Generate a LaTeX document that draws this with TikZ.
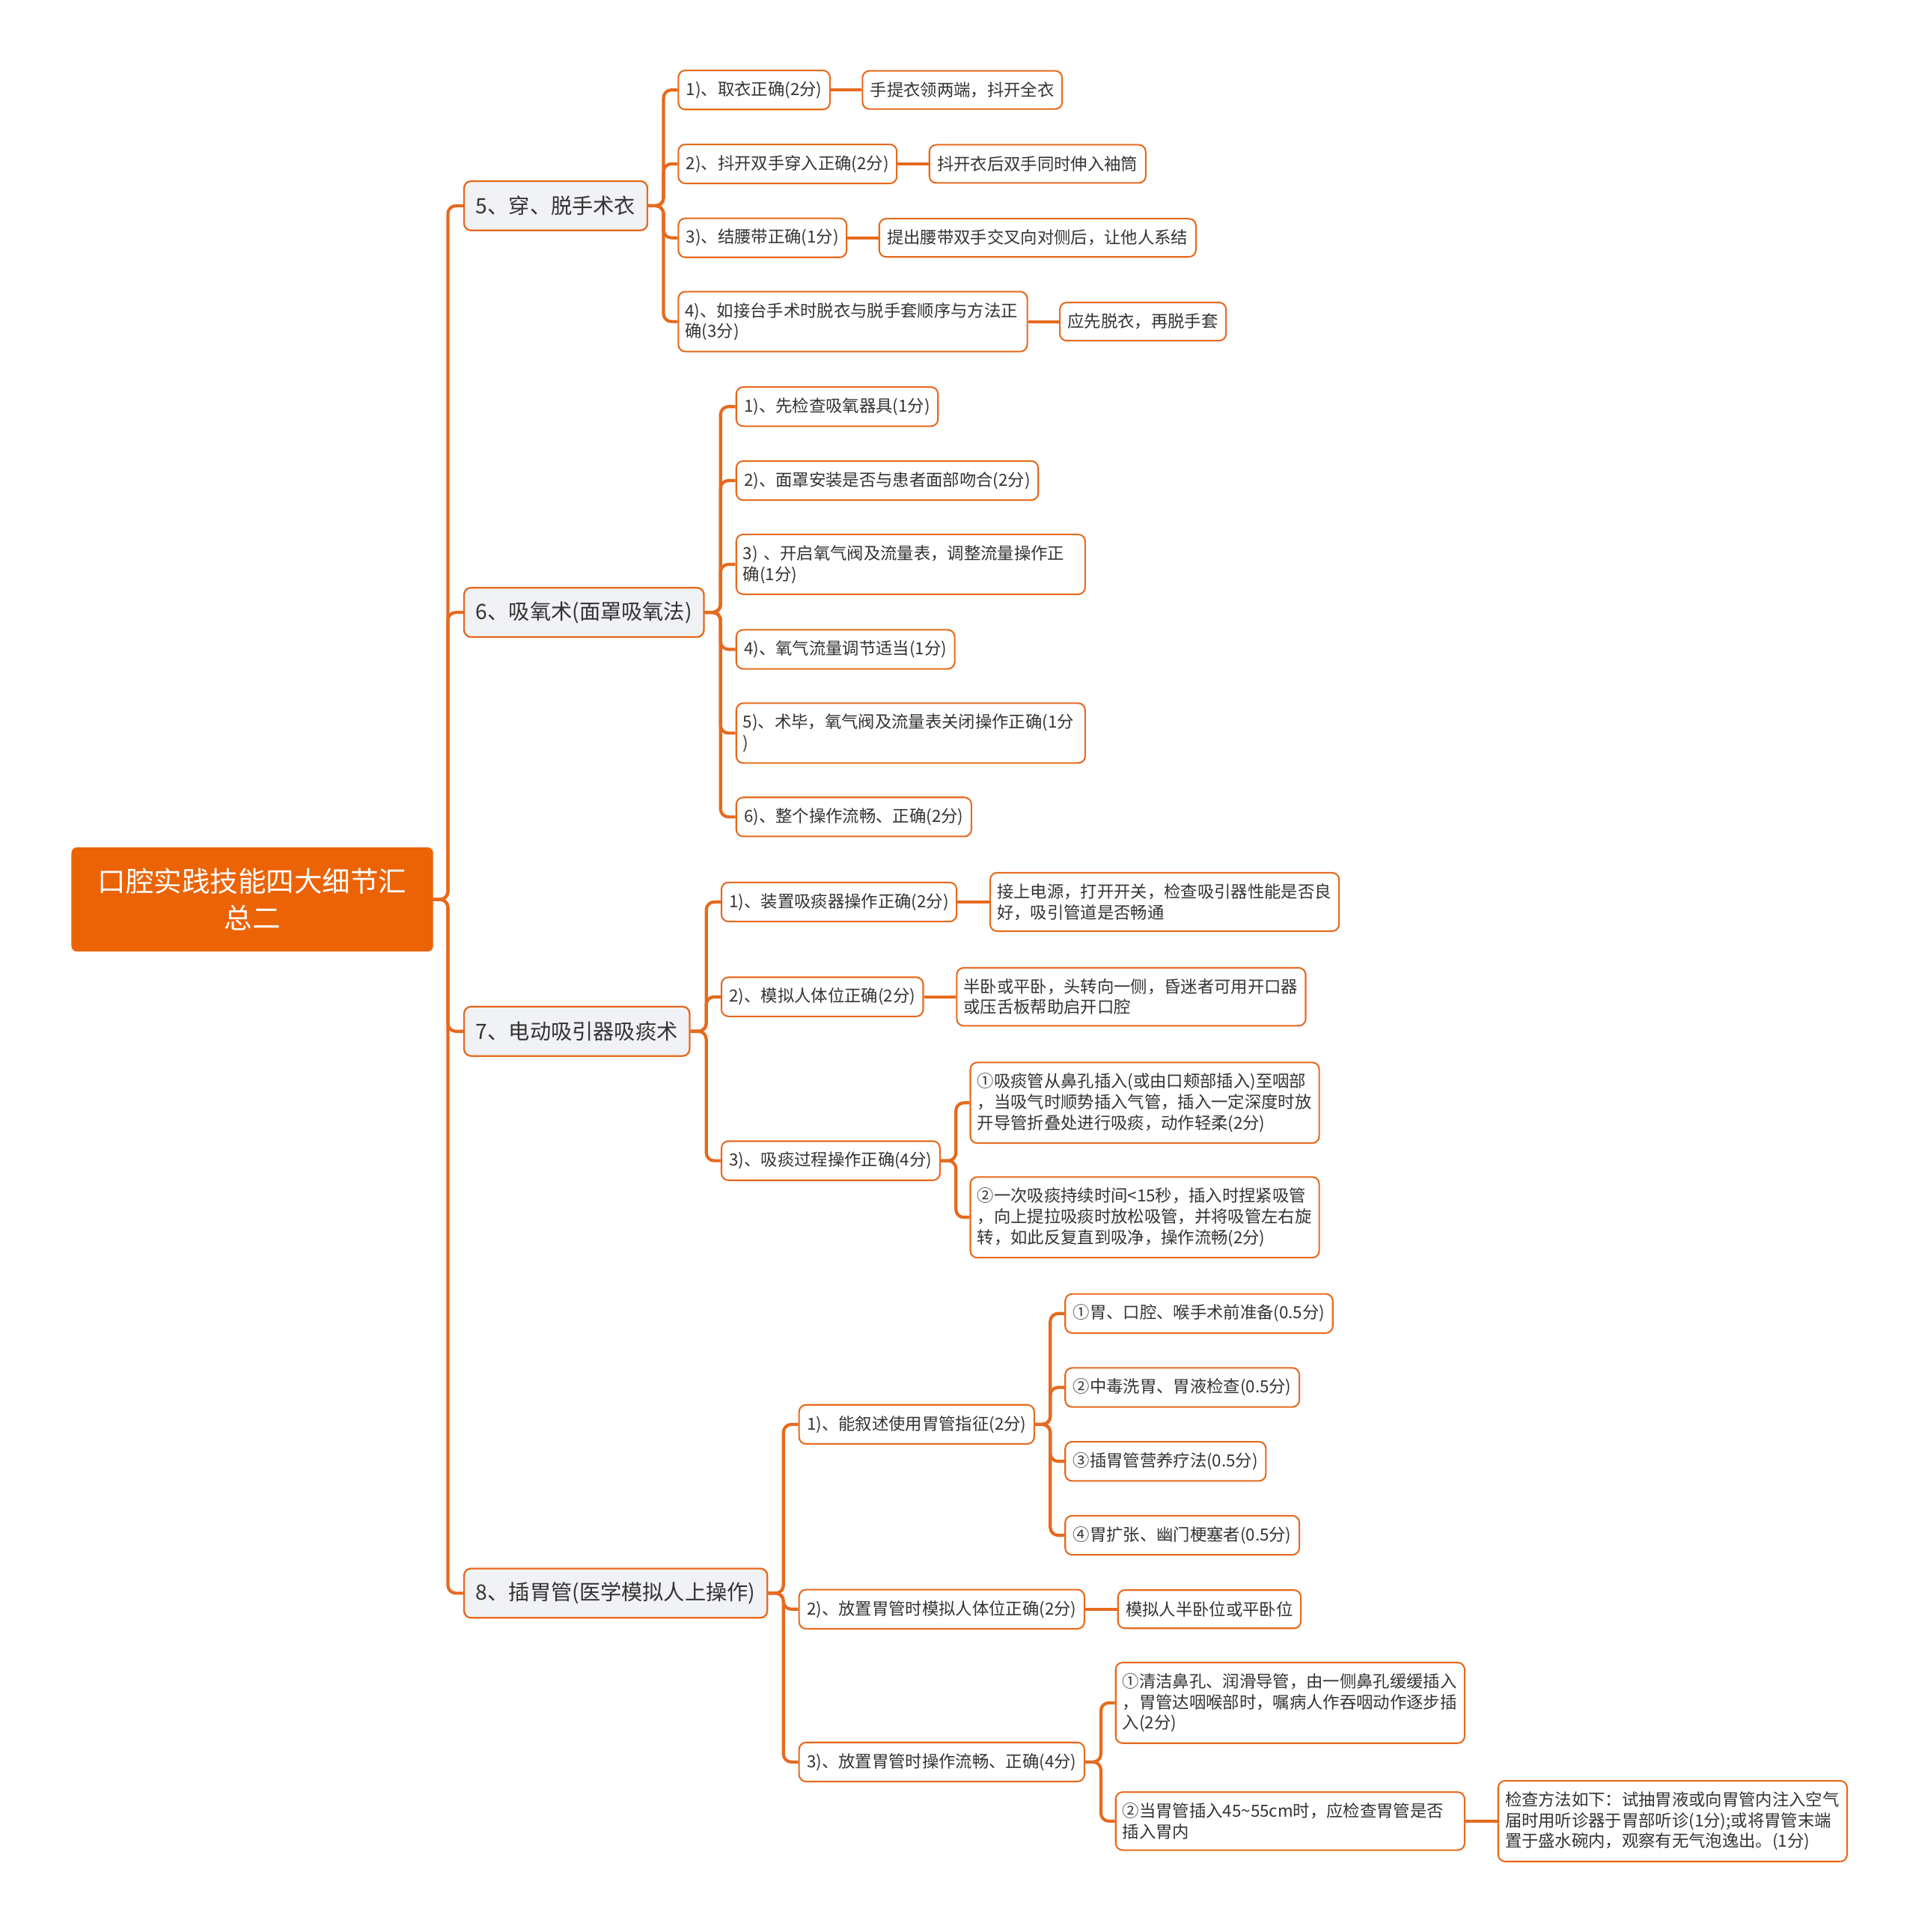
\documentclass[tikz,border=0pt]{standalone}
\usepackage{fontspec}
\setmainfont{Noto Sans CJK SC}
\usepackage{tikz}
\usetikzlibrary{positioning}
\definecolor{MapOrange}{HTML}{E66A1E}
\definecolor{RootOrange}{HTML}{EC6306}
\definecolor{TopicBg}{HTML}{F0F2F5}
\definecolor{InkGray}{HTML}{333333}
\tikzset{
  RT/.style={rectangle,rounded corners=3pt,fill=RootOrange,draw=RootOrange,
             text=white,align=center,anchor=west,
             minimum width=73.25mm,minimum height=21mm,text width=66mm,
             font=\fontsize{16.2}{21.3}\selectfont},
  TP/.style={rectangle,rounded corners=4pt,fill=TopicBg,draw=MapOrange,
             line width=1pt,text=InkGray,anchor=west,
             minimum height=10mm,inner xsep=2.4mm,
             font=\fontsize{12.2}{14}\selectfont},
  LF/.style={rectangle,rounded corners=4pt,fill=white,draw=MapOrange,
             line width=0.9pt,text=InkGray,anchor=west,align=left,
             minimum height=7.75mm,inner xsep=1.6mm,inner ysep=2.2mm,
             font=\fontsize{9.65}{12}\selectfont},
  LW/.style={LF,inner xsep=1.4mm,text width=68mm},
  lnk/.style={draw=MapOrange,line width=1.8pt,rounded corners=1.6mm}
}
\begin{document}
\begin{tikzpicture}[x=0.25mm,y=-0.25mm]
  \useasboundingbox (0,0) rectangle (1555,1568);

  \node[RT] (root) at (58,730) {口腔实践技能四大细节汇\\总二};

  \node[TP] (t5) at (376,167) {5、穿、脱手术衣};
  \node[TP] (t6) at (376,497) {6、吸氧术(面罩吸氧法)};
  \node[TP] (t7) at (376,837) {7、电动吸引器吸痰术};
  \node[TP] (t8) at (376,1293) {8、插胃管(医学模拟人上操作)};

  % 5
  \node[LF] (s51) at (550,73) {1)、取衣正确(2分)};
  \node[LF,right=6.3mm of s51] (s51a) {手提衣领两端，抖开全衣};
  \node[LF] (s52) at (550,133) {2)、抖开双手穿入正确(2分)};
  \node[LF,right=6.3mm of s52] (s52a) {抖开衣后双手同时伸入袖筒};
  \node[LF] (s53) at (550,193) {3)、结腰带正确(1分)};
  \node[LF,right=6.3mm of s53] (s53a) {提出腰带双手交叉向对侧后，让他人系结};
  \node[LW] (s54) at (550,261) {4)、如接台手术时脱衣与脱手套顺序与方法正\\确(3分)};
  \node[LF,right=6.3mm of s54] (s54a) {应先脱衣，再脱手套};

  % 6
  \node[LF] (s61) at (597,330) {1)、先检查吸氧器具(1分)};
  \node[LF] (s62) at (597,390) {2)、面罩安装是否与患者面部吻合(2分)};
  \node[LW] (s63) at (597,458) {3) 、开启氧气阀及流量表，调整流量操作正\\确(1分)};
  \node[LF] (s64) at (597,527) {4)、氧气流量调节适当(1分)};
  \node[LW] (s65) at (597,595) {5)、术毕，氧气阀及流量表关闭操作正确(1分\\)};
  \node[LF] (s66) at (597,663) {6)、整个操作流畅、正确(2分)};

  % 7
  \node[LF] (s71) at (585,732) {1)、装置吸痰器操作正确(2分)};
  \node[LW,right=6.5mm of s71] (s71a) {接上电源，打开开关，检查吸引器性能是否良\\好，吸引管道是否畅通};
  \node[LF] (s72) at (585,809) {2)、模拟人体位正确(2分)};
  \node[LW,right=6.5mm of s72] (s72a) {半卧或平卧，头转向一侧，昏迷者可用开口器\\或压舌板帮助启开口腔};
  \node[LF] (s73) at (585,942) {3)、吸痰过程操作正确(4分)};
  \node[LW] (s73a) at (787,895) {①吸痰管从鼻孔插入(或由口颊部插入)至咽部\\，当吸气时顺势插入气管，插入一定深度时放\\开导管折叠处进行吸痰，动作轻柔(2分)};
  \node[LW] (s73b) at (787,988) {②一次吸痰持续时间<15秒，插入时捏紧吸管\\，向上提拉吸痰时放松吸管，并将吸管左右旋\\转，如此反复直到吸净，操作流畅(2分)};

  % 8
  \node[LF] (s81) at (648,1156) {1)、能叙述使用胃管指征(2分)};
  \node[LF] (s81a) at (864,1066) {①胃、口腔、喉手术前准备(0.5分)};
  \node[LF] (s81b) at (864,1126) {②中毒洗胃、胃液检查(0.5分)};
  \node[LF] (s81c) at (864,1186) {③插胃管营养疗法(0.5分)};
  \node[LF] (s81d) at (864,1246) {④胃扩张、幽门梗塞者(0.5分)};
  \node[LF] (s82) at (648,1306) {2)、放置胃管时模拟人体位正确(2分)};
  \node[LF,right=6.5mm of s82] (s82a) {模拟人半卧位或平卧位};
  \node[LF] (s83) at (648,1430) {3)、放置胃管时操作流畅、正确(4分)};
  \node[LW] (s83a) at (905,1382) {①清洁鼻孔、润滑导管，由一侧鼻孔缓缓插入\\，胃管达咽喉部时，嘱病人作吞咽动作逐步插\\入(2分)};
  \node[LW] (s83b) at (905,1478) {②当胃管插入45\textasciitilde55cm时，应检查胃管是否\\插入胃内};
  \node[LW,right=6.5mm of s83b] (s83c) {检查方法如下：试抽胃液或向胃管内注入空气\\届时用听诊器于胃部听诊(1分);或将胃管末端\\置于盛水碗内，观察有无气泡逸出。(1分)};

  \draw[lnk](root.east)--++(3mm,0)|-(t5.west);
  \draw[lnk](root.east)--++(3mm,0)|-(t6.west);
  \draw[lnk](root.east)--++(3mm,0)|-(t7.west);
  \draw[lnk](root.east)--++(3mm,0)|-(t8.west);

  \draw[lnk](t5.east)--++(3.1mm,0)|-(s51.west);
  \draw[lnk](t5.east)--++(3.1mm,0)|-(s52.west);
  \draw[lnk](t5.east)--++(3.1mm,0)|-(s53.west);
  \draw[lnk](t5.east)--++(3.1mm,0)|-(s54.west);
  \draw[lnk](s51.east)--(s51a.west);
  \draw[lnk](s52.east)--(s52a.west);
  \draw[lnk](s53.east)--(s53a.west);
  \draw[lnk](s54.east)--(s54a.west);

  \draw[lnk](t6.east)--++(3.2mm,0)|-(s61.west);
  \draw[lnk](t6.east)--++(3.2mm,0)|-(s62.west);
  \draw[lnk](t6.east)--++(3.2mm,0)|-(s63.west);
  \draw[lnk](t6.east)--++(3.2mm,0)|-(s64.west);
  \draw[lnk](t6.east)--++(3.2mm,0)|-(s65.west);
  \draw[lnk](t6.east)--++(3.2mm,0)|-(s66.west);

  \draw[lnk](t7.east)--++(3.2mm,0)|-(s71.west);
  \draw[lnk](t7.east)--++(3.2mm,0)|-(s72.west);
  \draw[lnk](t7.east)--++(3.2mm,0)|-(s73.west);
  \draw[lnk](s71.east)--(s71a.west);
  \draw[lnk](s72.east)--(s72a.west);
  \draw[lnk](s73.east)--++(3.1mm,0)|-(s73a.west);
  \draw[lnk](s73.east)--++(3.1mm,0)|-(s73b.west);

  \draw[lnk](t8.east)--++(3.1mm,0)|-(s81.west);
  \draw[lnk](t8.east)--++(3.1mm,0)|-(s82.west);
  \draw[lnk](t8.east)--++(3.1mm,0)|-(s83.west);
  \draw[lnk](s81.east)--++(3.1mm,0)|-(s81a.west);
  \draw[lnk](s81.east)--++(3.1mm,0)|-(s81b.west);
  \draw[lnk](s81.east)--++(3.1mm,0)|-(s81c.west);
  \draw[lnk](s81.east)--++(3.1mm,0)|-(s81d.west);
  \draw[lnk](s82.east)--(s82a.west);
  \draw[lnk](s83.east)--++(3.2mm,0)|-(s83a.west);
  \draw[lnk](s83.east)--++(3.2mm,0)|-(s83b.west);
  \draw[lnk](s83b.east)--(s83c.west);
\end{tikzpicture}
\end{document}
